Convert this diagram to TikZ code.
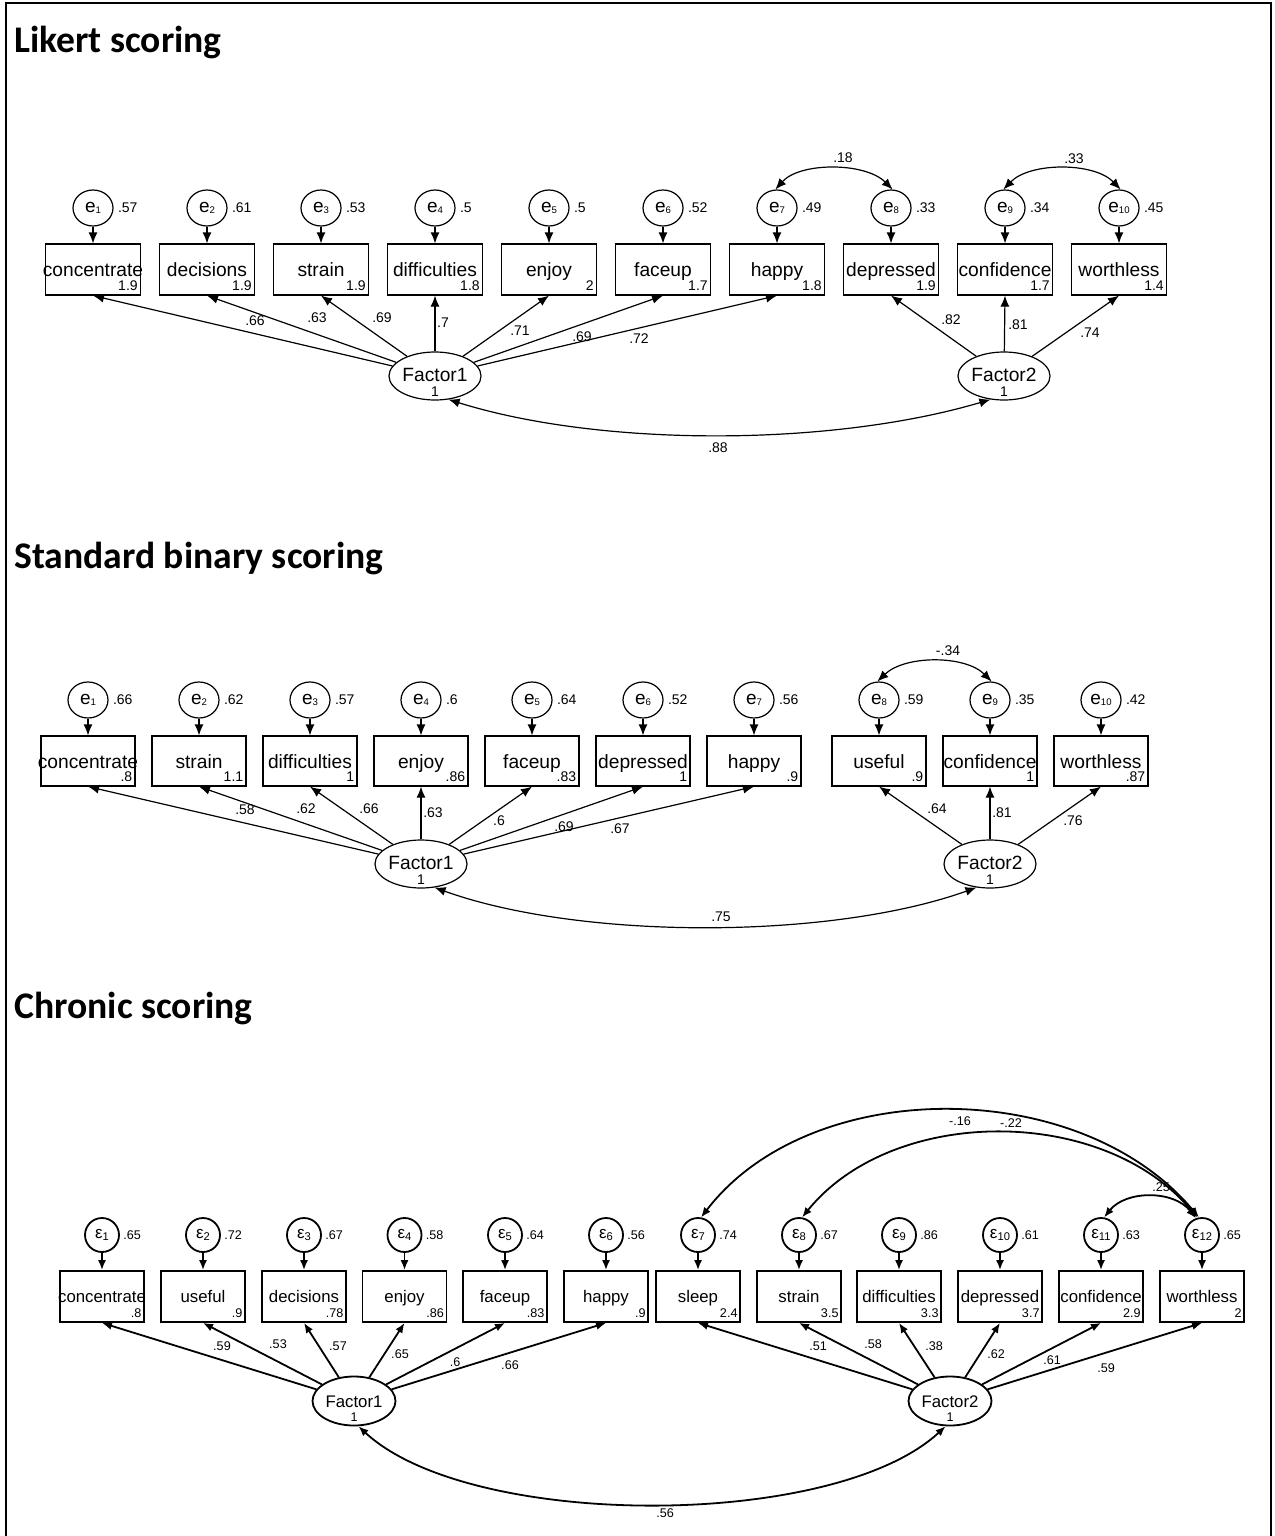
\documentclass[tikz,border=0pt]{standalone}
\usepackage{fontspec}
\setmainfont{Liberation Sans}
\newfontfamily\titlefont{Carlito}
\usetikzlibrary{arrows.meta,shapes.geometric}
\newcommand{\myee}[1]{e\raisebox{-0.8pt}{\fontsize{4.8}{5}\selectfont #1}}
\newcommand{\myeps}[1]{ε\raisebox{-1pt}{\fontsize{5.6}{6}\selectfont #1}}
\begin{document}
\begin{tikzpicture}[x=0.5pt,y=-0.5pt,
  title/.style={font=\titlefont\bfseries\fontsize{18.8}{21}\selectfont, inner sep=0, anchor=base west},
  boxA/.style={draw, line width=0.6pt, minimum width=47.5pt, minimum height=25.5pt, inner sep=0},
  boxB/.style={draw, line width=0.6pt, minimum width=47pt, minimum height=25pt, inner sep=0},
  boxC/.style={draw, line width=0.9pt, minimum width=42pt, minimum height=25.5pt, inner sep=0},
  nameA/.style={font=\fontsize{9.6}{11}\selectfont, inner sep=0, anchor=base},
  nameC/.style={font=\fontsize{8.4}{10}\selectfont, inner sep=0, anchor=base},
  numA/.style={font=\fontsize{7}{8}\selectfont, inner sep=0},
  numC/.style={font=\fontsize{6.3}{7.5}\selectfont, inner sep=0},
  errA/.style={ellipse, draw, line width=0.6pt, minimum width=20pt, minimum height=18pt, inner sep=0, font=\fontsize{9.5}{10}\selectfont},
  errC/.style={circle, draw, line width=0.9pt, minimum size=17pt, inner sep=0, font=\fontsize{8.5}{9}\selectfont},
  facA/.style={ellipse, draw, line width=0.6pt, minimum width=46pt, minimum height=24pt, inner sep=0},
  facC/.style={ellipse, draw, line width=0.9pt, minimum width=41.5pt, minimum height=24.5pt, inner sep=0},
  arrA/.style={line width=0.6pt, -{Latex[length=5.5pt,width=4.5pt]}},
  covA/.style={line width=0.6pt, {Latex[length=5.5pt,width=4.5pt]}-{Latex[length=5.5pt,width=4.5pt]}},
  arrC/.style={line width=0.9pt, -{Latex[length=5pt,width=4pt]}},
  covC/.style={line width=0.9pt, {Latex[length=5pt,width=4pt]}-{Latex[length=5pt,width=4pt]}},
]
\useasboundingbox (0,0) rectangle (1274,1536);
\draw[line width=1pt] (6,1536) -- (6,3) -- (1271,3) -- (1271,1536);

% ---------------- Panel 1: Likert ----------------
\node[title] (t1) at (14,53) {Likert scoring};
\node[facA] (p1F1) at (435,376) {};
\node[nameA] (p1F1t) at ([yshift=-2.5pt]p1F1.center) {Factor1};
\node[numA, anchor=base] (p1F1v) at ([yshift=-10pt]p1F1.center) {1};
\node[facA] (p1F2) at (1004,376) {};
\node[nameA] (p1F2t) at ([yshift=-2.5pt]p1F2.center) {Factor2};
\node[numA, anchor=base] (p1F2v) at ([yshift=-10pt]p1F2.center) {1};
\foreach \i/\x/\nm/\pval/\pvar/\pf/\plab/\lx/\ly in {
1/93/concentrate/1.9/.57/F1/.66/255/321,
2/207/decisions/1.9/.61/F1/.63/317/318,
3/321/strain/1.9/.53/F1/.69/382/318,
4/435/difficulties/1.8/.5/F1/.7/443/323,
5/549/enjoy/2/.5/F1/.71/520/331,
6/663/faceup/1.7/.52/F1/.69/582/337,
7/777/happy/1.8/.49/F1/.72/639/339,
8/891/depressed/1.9/.33/F2/.82/951/320,
9/1005/confidence/1.7/.34/F2/.81/1018/325,
10/1119/worthless/1.4/.45/F2/.74/1090/333}{
  \node[boxA] (p1b\i) at (\x,269.5) {};
  \node[nameA] (p1n\i) at ([yshift=-3.5pt]p1b\i.center) {\nm};
  \node[numA, anchor=base east] (p1v\i) at ([xshift=-1.5pt,yshift=2.5pt]p1b\i.south east) {\pval};
  \node[errA] (p1e\i) at (\x,208) {\myee{\i}};
  \node[numA, anchor=west] (p1w\i) at ([xshift=2pt]p1e\i.east) {\pvar};
  \draw[arrA] (p1e\i) -- (p1b\i);
  \draw[arrA] (p1\pf) -- (p1b\i.south);
  \node[numA] (p1l\i) at (\lx,\ly) {\plab};
}
\draw[covA] (p1e7.95) .. controls (800,162) and (865,162) .. (p1e8.85);
\node[numA] (p1c78) at (843,158) {.18};
\draw[covA] (p1e9.95) .. controls (1030,162) and (1094,162) .. (p1e10.85);
\node[numA] (p1c910) at (1074,159) {.33};
\draw[covA] (p1F1.-60) .. controls (600,447) and (830,447) .. (p1F2.-120);
\node[numA] (p1cF) at (718,448) {.88};

% ---------------- Panel 2: Standard binary ----------------
\node[title] (t2) at (14,568) {Standard binary scoring};
\node[facA] (p2F1) at (421,864) {};
\node[nameA] (p2F1t) at ([yshift=-2.5pt]p2F1.center) {Factor1};
\node[numA, anchor=base] (p2F1v) at ([yshift=-10pt]p2F1.center) {1};
\node[facA] (p2F2) at (990,864) {};
\node[nameA] (p2F2t) at ([yshift=-2.5pt]p2F2.center) {Factor2};
\node[numA, anchor=base] (p2F2v) at ([yshift=-10pt]p2F2.center) {1};
\foreach \i/\x/\nm/\pval/\pvar/\pf/\plab/\lx/\ly in {
1/88/concentrate/.8/.66/F1/.58/245/810,
2/199/strain/1.1/.62/F1/.62/306/809,
3/310/difficulties/1/.57/F1/.66/369/809,
4/421/enjoy/.86/.6/F1/.63/433/813,
5/532/faceup/.83/.64/F1/.6/499/821,
6/643/depressed/1/.52/F1/.69/564/827,
7/754/happy/.9/.56/F1/.67/620/829,
8/879/useful/.9/.59/F2/.64/937/809,
9/990/confidence/1/.35/F2/.81/1002/813,
10/1101/worthless/.87/.42/F2/.76/1073/821}{
  \node[boxB] (p2b\i) at (\x,761) {};
  \node[nameA] (p2n\i) at ([yshift=-3.5pt]p2b\i.center) {\nm};
  \node[numA, anchor=base east] (p2v\i) at ([xshift=-1.5pt,yshift=2.5pt]p2b\i.south east) {\pval};
  \node[errA] (p2e\i) at (\x,700) {\myee{\i}};
  \node[numA, anchor=west] (p2w\i) at ([xshift=2pt]p2e\i.east) {\pvar};
  \draw[arrA] (p2e\i) -- (p2b\i);
  \draw[arrA] (p2\pf) -- (p2b\i.south);
  \node[numA] (p2l\i) at (\lx,\ly) {\plab};
}
\draw[covA] (p2e8.95) .. controls (905,655) and (965,655) .. (p2e9.85);
\node[numA] (p2c89) at (948,651) {-.34};
\draw[covA] (p2F1.-60) .. controls (580,940) and (830,940) .. (p2F2.-120);
\node[numA] (p2cF) at (721,917) {.75};

% ---------------- Panel 3: Chronic ----------------
\node[title] (t3) at (14,1018) {Chronic scoring};
\node[facC] (p3F1) at (354,1401) {};
\node[nameC] (p3F1t) at ([yshift=-3pt]p3F1.center) {Factor1};
\node[numC, anchor=base] (p3F1v) at ([yshift=-10.2pt]p3F1.center) {1};
\node[facC] (p3F2) at (950,1401) {};
\node[nameC] (p3F2t) at ([yshift=-3pt]p3F2.center) {Factor2};
\node[numC, anchor=base] (p3F2v) at ([yshift=-10.2pt]p3F2.center) {1};
\foreach \i/\x/\nm/\pval/\pvar/\pf/\plab/\lx/\ly in {
1/102/concentrate/.8/.65/F1/.59/222/1346,
2/203/useful/.9/.72/F1/.53/278/1344,
3/304/decisions/.78/.67/F1/.57/338/1346,
4/404.5/enjoy/.86/.58/F1/.65/400/1354,
5/505/faceup/.83/.64/F1/.6/455/1362,
6/606/happy/.9/.56/F1/.66/510/1365,
7/698/sleep/2.4/.74/F2/.51/818/1346,
8/799/strain/3.5/.67/F2/.58/873/1344,
9/899/difficulties/3.3/.86/F2/.38/934/1346,
10/1000/depressed/3.7/.61/F2/.62/996/1354,
11/1101/confidence/2.9/.63/F2/.61/1052/1360,
12/1202/worthless/2/.65/F2/.59/1106/1368}{
  \node[boxC] (p3b\i) at (\x,1296.5) {};
  \node[nameC] (p3n\i) at ([yshift=-3pt]p3b\i.center) {\nm};
  \node[numC, anchor=base east] (p3v\i) at ([xshift=-1.5pt,yshift=2.6pt]p3b\i.south east) {\pval};
  \node[errC] (p3e\i) at (\x,1235) {\myeps{\i}};
  \node[numC, anchor=west] (p3w\i) at ([xshift=1.5pt]p3e\i.east) {\pvar};
  \draw[arrC] (p3e\i) -- (p3b\i);
  \draw[arrC] (p3\pf) -- (p3b\i.south);
  \node[numC] (p3l\i) at (\lx,\ly) {\plab};
}
\draw[covC] (p3e7.80) .. controls (810,1075) and (1080,1075) .. (p3e12.100);
\node[numC] (p3c712) at (960,1121) {-.16};
\draw[covC] (p3e8.80) .. controls (893,1105) and (1104,1105) .. (p3e12.105);
\node[numC] (p3c812) at (1011,1123) {-.22};
\draw[covC] (p3e11.80) .. controls (1126,1190) and (1174,1190) .. (p3e12.110);
\node[numC] (p3c1112) at (1161,1187) {.25};
\draw[covC] (p3F1.-80) .. controls (470,1530) and (834,1530) .. (p3F2.-100);
\node[numC] (p3cF) at (665,1513) {.56};
\end{tikzpicture}
\end{document}
